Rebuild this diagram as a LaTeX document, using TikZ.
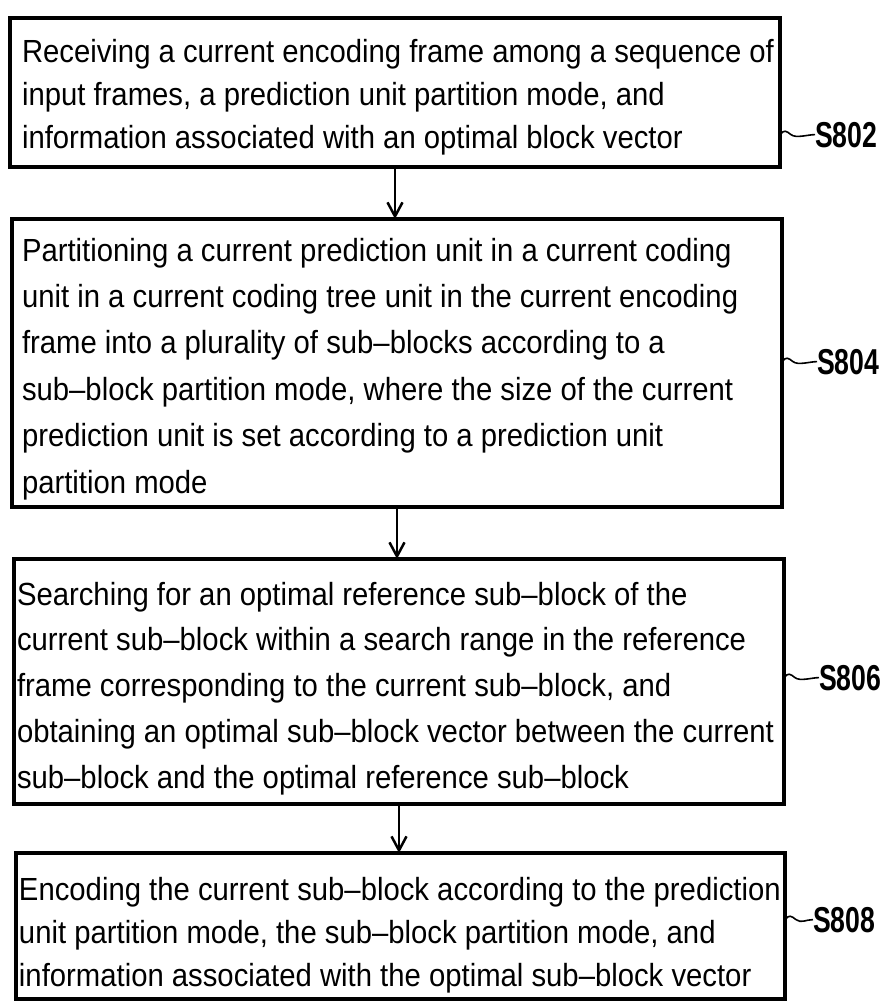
\documentclass[tikz,border=0pt]{standalone}
\usepackage{fontspec}
\setmainfont{Liberation Sans}[FakeStretch=0.915]
\newfontfamily\lblfont{Liberation Sans}[FakeStretch=0.74]
\usetikzlibrary{arrows.meta}
\begin{document}
\begin{tikzpicture}[x=1pt,y=-1pt,
  stepbox/.style={draw, line width=3.5pt, inner sep=0pt, outer sep=0pt, anchor=north west},
  txt/.style={inner sep=0pt, outer sep=0pt, anchor=north west, align=left},
  lbl/.style={inner sep=0pt, outer sep=0pt, anchor=base west, font=\lblfont\bfseries\fontsize{36}{36}\selectfont},
  flow/.style={line width=2pt, -{Straight Barb[length=14pt, width=15pt, line width=2.5pt]}},
  leader/.style={line width=1.6pt}]
\useasboundingbox (0,0) rectangle (888,1005);

% boxes
\node[stepbox, minimum width=770pt, minimum height=149pt] (b1) at (10,18) {};
\node[stepbox, minimum width=770pt, minimum height=288pt] (b2) at (12,219) {};
\node[stepbox, minimum width=770pt, minimum height=245pt] (b3) at (14,559) {};
\node[stepbox, minimum width=769pt, minimum height=146pt] (b4) at (16,853) {};

% texts
\node[txt, font=\fontsize{32}{43}\selectfont] (t1) at (22,38) {\rule{0pt}{24pt}Receiving a current encoding frame among a sequence of\\
input frames, a prediction unit partition mode, and\\
information associated with an optimal block vector};

\node[txt, font=\fontsize{32}{46.4}\selectfont] (t2) at (22,237) {\rule{0pt}{24pt}Partitioning a current prediction unit in a current coding\\
unit in a current coding tree unit in the current encoding\\
frame into a plurality of sub--blocks according to a\\
sub--block partition mode, where the size of the current\\
prediction unit is set according to a prediction unit\\
partition mode};

\node[txt, font=\fontsize{32}{45.75}\selectfont] (t3) at (17,581) {\rule{0pt}{24pt}Searching for an optimal reference sub--block of the\\
current sub--block within a search range in the reference\\
frame corresponding to the current sub--block, and\\
obtaining an optimal sub--block vector between the current\\
sub--block and the optimal reference sub--block};

\node[txt, font=\fontsize{32}{43}\selectfont] (t4) at (19,876) {\rule{0pt}{24pt}Encoding the current sub--block according to the prediction\\
unit partition mode, the sub--block partition mode, and\\
information associated with the optimal sub--block vector};

% arrows
\draw[flow] (b1.south) -- (b1.south |- b2.north);
\draw[flow] (b2.south) -- (b2.south |- b3.north);
\draw[flow] (b3.south) -- (b3.south |- b4.north);

% labels
\node[lbl] (l1) at (815,147) {S802};
\node[lbl] (l2) at (817,374) {S804};
\node[lbl] (l3) at (819,690) {S806};
\node[lbl] (l4) at (813,932) {S808};

\draw[leader] (b1.east |- l1.west) .. controls +(4,-5) and +(-5,-4) .. ++(11,0) .. controls +(5,4) and +(-7,0) .. (l1.west);
\draw[leader] (b2.east |- l2.west) .. controls +(4,-5) and +(-5,-4) .. ++(11,0) .. controls +(5,4) and +(-7,0) .. (l2.west);
\draw[leader] (b3.east |- l3.west) .. controls +(4,-5) and +(-5,-4) .. ++(11,0) .. controls +(5,4) and +(-7,0) .. (l3.west);
\draw[leader] (b4.east |- l4.west) .. controls +(4,-5) and +(-5,-4) .. ++(11,0) .. controls +(5,4) and +(-7,0) .. (l4.west);
\end{tikzpicture}
\end{document}
